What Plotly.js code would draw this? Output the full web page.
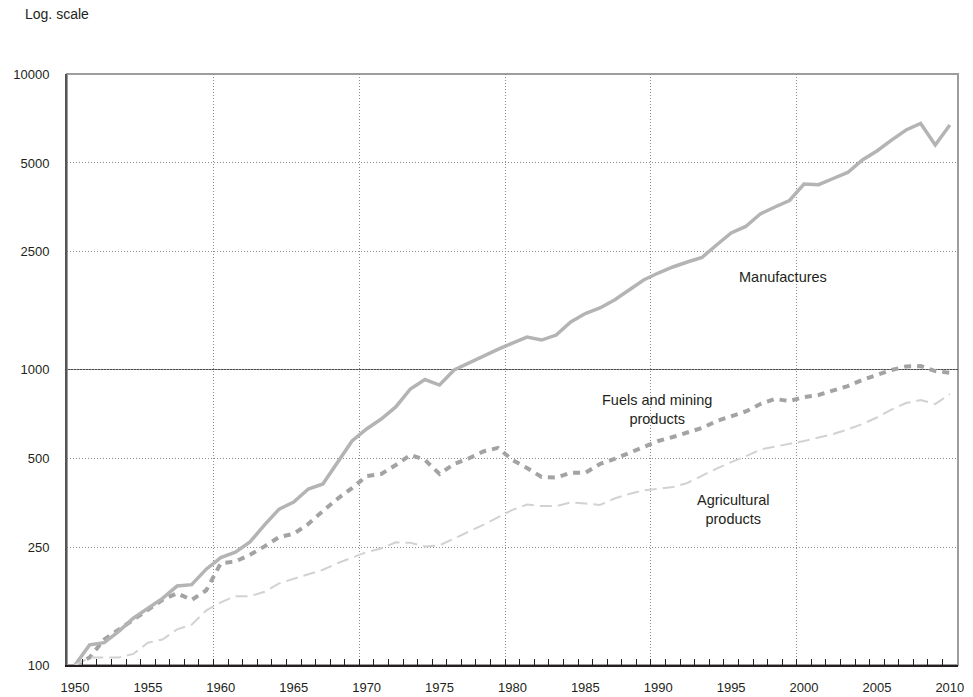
<!DOCTYPE html>
<html>
<head>
<meta charset="utf-8">
<script src="https://cdn.plot.ly/plotly-3.0.1.min.js"></script>
<style>
  html, body { margin: 0; padding: 0; background: #ffffff; }
  #chart { width: 973px; height: 697px; }
</style>
</head>
<body>
<div id="chart"></div>
<script>
// Years of the series (index, 1950 = 100)
const years = [
  1950, 1951, 1952, 1953, 1954, 1955, 1956, 1957, 1958, 1959,
  1960, 1961, 1962, 1963, 1964, 1965, 1966, 1967, 1968, 1969,
  1970, 1971, 1972, 1973, 1974, 1975, 1976, 1977, 1978, 1979,
  1980, 1981, 1982, 1983, 1984, 1985, 1986, 1987, 1988, 1989,
  1990, 1991, 1992, 1993, 1994, 1995, 1996, 1997, 1998, 1999,
  2000, 2001, 2002, 2003, 2004, 2005, 2006, 2007, 2008, 2009,
  2010
];

// Export volume index, manufactures
const manufactures = [
  100, 117, 119, 130, 144, 156, 168, 185, 187, 211,
  231, 241, 261, 298, 337, 356, 394, 410, 486, 573,
  629, 680, 747, 859, 925, 886, 996, 1052, 1115, 1169,
  1229, 1288, 1258, 1308, 1448, 1547, 1615, 1719, 1858, 2009,
  2121, 2223, 2311, 2394, 2639, 2897, 3048, 3360, 3548, 3732,
  4244, 4220, 4430, 4642, 5117, 5489, 5977, 6464, 6800, 5752,
  6721
];

// Export volume index, fuels and mining products
const fuelsMining = [
  100, 106, 122, 132, 143, 154, 166, 175, 166, 179,
  221, 224, 236, 252, 271, 278, 300, 332, 365, 397,
  436, 443, 475, 514, 494, 443, 479, 500, 528, 543,
  494, 464, 433, 431, 447, 447, 479, 498, 522, 547,
  573, 591, 610, 634, 669, 693, 721, 764, 795, 782,
  807, 820, 846, 879, 922, 962, 996, 1024, 1027, 988,
  975
];

// Export volume index, agricultural products
const agricultural = [
  100, 106, 106, 106, 109, 119, 122, 132, 137, 153,
  163, 171, 171, 177, 189, 196, 203, 210, 221, 231,
  241, 248, 260, 259, 252, 254, 268, 282, 298, 316,
  335, 349, 345, 345, 355, 352, 348, 366, 379, 390,
  396, 400, 413, 438, 462, 486, 508, 536, 547, 560,
  573, 589, 605, 627, 654, 688, 732, 770, 788, 764,
  826
];

// Axis labelling
const yTicks = [100, 250, 500, 1000, 2500, 5000, 10000];
const yTickText = ['100', '250', '500', '1000', '2500', '5000', '10000'];
const xLabelYears = [1950, 1955, 1960, 1965, 1970, 1975, 1980, 1985, 1990, 1995, 2000, 2005, 2010];
const decadeBounds = [1959.5, 1969.5, 1979.5, 1989.5, 1999.5];

const FONT = '"Liberation Sans", Arial, Helvetica, sans-serif';
const INK = '#231f20';
const X_RANGE = [1949.45, 2010.56];

// The agricultural series sits on the overlaid x axis (same range) so that
// the year-boundary ticks and decade grid of that axis are drawn.
const traces = [
  {
    x: years, y: agricultural, name: 'Agricultural products',
    xaxis: 'x2', yaxis: 'y',
    type: 'scatter', mode: 'lines',
    line: { color: '#d2d2d2', width: 2, dash: '12px,6px' },
    hoverinfo: 'skip'
  },
  {
    x: years, y: fuelsMining, name: 'Fuels and mining products',
    type: 'scatter', mode: 'lines',
    line: { color: '#a3a3a4', width: 4, dash: '7px,6px' },
    hoverinfo: 'skip'
  },
  {
    x: years, y: manufactures, name: 'Manufactures',
    type: 'scatter', mode: 'lines',
    line: { color: '#b4b4b5', width: 3.5 },
    hoverinfo: 'skip'
  }
];

const layout = {
  width: 973,
  height: 697,
  margin: { l: 67, r: 15, t: 74, b: 32 },
  paper_bgcolor: '#ffffff',
  plot_bgcolor: '#ffffff',
  showlegend: false,
  font: { family: FONT, size: 13, color: INK },
  xaxis: {
    type: 'linear',
    range: X_RANGE,
    tickmode: 'array',
    tickvals: xLabelYears,
    ticktext: xLabelYears.map(String),
    ticks: '',
    ticklabelstandoff: 10,
    tickfont: { family: FONT, size: 13, color: INK },
    showgrid: false,
    zeroline: false,
    showline: true,
    linecolor: INK,
    linewidth: 1.5
  },
  xaxis2: {
    type: 'linear',
    range: X_RANGE,
    overlaying: 'x',
    anchor: 'y',
    side: 'bottom',
    tickmode: 'array',
    tickvals: decadeBounds,
    showticklabels: false,
    ticks: 'inside',
    ticklen: 6,
    tickwidth: 1,
    tickcolor: INK,
    showgrid: true,
    gridcolor: '#8c8c8c',
    gridwidth: 1,
    griddash: '1px,2px',
    minor: {
      tickmode: 'linear',
      tick0: 1949.5,
      dtick: 1,
      ticks: 'inside',
      ticklen: 6,
      tickwidth: 1,
      tickcolor: INK,
      showgrid: false
    },
    zeroline: false,
    showline: false
  },
  yaxis: {
    type: 'log',
    range: [2, 4],
    tickmode: 'array',
    tickvals: yTicks,
    ticktext: yTickText,
    ticks: '',
    ticklabelstandoff: 13,
    tickfont: { family: FONT, size: 13, color: INK },
    showgrid: true,
    gridcolor: '#8c8c8c',
    gridwidth: 1,
    griddash: '1px,2px',
    zeroline: false,
    showline: true,
    linecolor: '#555555',
    linewidth: 2
  },
  shapes: [
    // grey frame on top and right
    {
      type: 'rect', xref: 'paper', yref: 'paper',
      x0: 0, x1: 1, y0: 0, y1: 1,
      line: { color: '#9d9d9d', width: 2 },
      layer: 'below'
    },
    // solid reference line at index 1000 (middle of the log range)
    {
      type: 'line', xref: 'paper', yref: 'paper',
      x0: 0, x1: 1, y0: 0.5, y1: 0.5,
      line: { color: '#4d4d4d', width: 1 },
      layer: 'below'
    }
  ],
  annotations: [
    {
      text: 'Log. scale', xref: 'paper', yref: 'paper',
      x: -0.049, y: 1.1015, xanchor: 'left', yanchor: 'middle',
      showarrow: false, font: { family: FONT, size: 14, color: INK }
    },
    {
      text: 'Manufactures', xref: 'x', yref: 'y',
      x: 1998.56, y: 3.313, xanchor: 'center', yanchor: 'middle',
      showarrow: false, font: { family: FONT, size: 14.5, color: INK }
    },
    {
      text: 'Fuels and mining<br>products', xref: 'x', yref: 'y',
      x: 1989.92, y: 2.8646, xanchor: 'center', yanchor: 'middle',
      showarrow: false, align: 'center',
      font: { family: FONT, size: 14.5, color: INK }
    },
    {
      text: 'Agricultural<br>products', xref: 'x', yref: 'y',
      x: 1995.13, y: 2.5262, xanchor: 'center', yanchor: 'middle',
      showarrow: false, align: 'center',
      font: { family: FONT, size: 14.5, color: INK }
    }
  ]
};

Plotly.newPlot('chart', traces, layout, { displayModeBar: false, staticPlot: true });
</script>
</body>
</html>
